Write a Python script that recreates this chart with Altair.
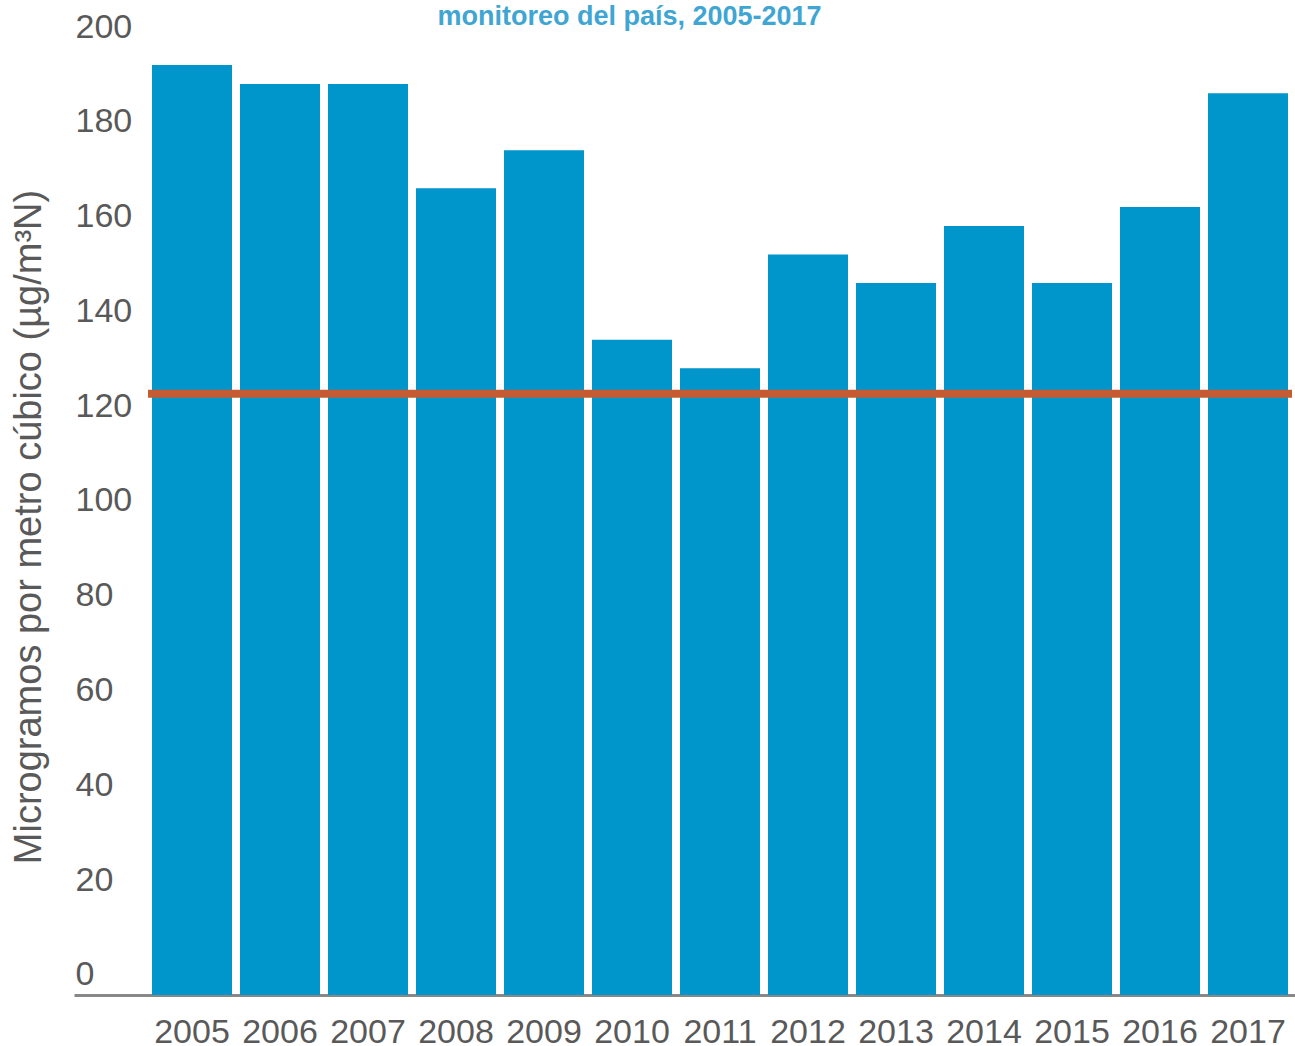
import altair as alt
import pandas as pd

# ---- data ----
anios = ["2005", "2006", "2007", "2008", "2009", "2010", "2011",
         "2012", "2013", "2014", "2015", "2016", "2017"]
valores = [192, 188, 188, 166, 174, 134, 128, 152, 146, 158, 146, 162, 186]
limite = 122.6
marcas_y = [0, 20, 40, 60, 80, 100, 120, 140, 160, 180, 200]
base_y = -4.22      # bottom of the value axis (bars start at the axis line)
tope_y = 200

titulo = "monitoreo del país, 2005-2017"
titulo_eje_y = "Microgramos por metro cúbico (µg/m³N)"

FONT = "Liberation Sans"
GRIS = "#595959"

df = pd.DataFrame({
    "anio": anios,
    "valor": valores,
    "limite": [limite] * len(anios),
})

x_scale = alt.Scale(paddingInner=8 / 88, paddingOuter=0.483, align=0.9176)
y_scale = alt.Scale(domain=[base_y, tope_y], nice=False, zero=False)

x_axis = alt.Axis(
    title=None, labelAngle=0, labelFontSize=34, labelColor=GRIS, labelFont=FONT,
    labelPadding=20, ticks=False, tickSize=0, domainColor="#888888",
    domainWidth=3, grid=False,
)
y_axis = alt.Axis(
    title=titulo_eje_y, values=marcas_y, labelFontSize=34, labelColor=GRIS,
    labelFont=FONT, labelAlign="left", labelPadding=-1, ticks=False, tickSize=0,
    domain=False, grid=False, titleFontSize=38, titleFont=FONT,
    titleFontWeight="normal", titleColor=GRIS, titleX=-34, titleY=499.5,
    titleAngle=270, titleAlign="center", titleBaseline="alphabetic",
)

barras = alt.Chart(df).mark_bar(color="#0096CB").encode(
    x=alt.X("anio:N", sort=anios, scale=x_scale, axis=x_axis),
    y=alt.Y("valor:Q", scale=y_scale, axis=y_axis),
    y2=alt.datum(base_y),
)

linea = alt.Chart(df).mark_tick(color="#C55B33", thickness=8, size=88, opacity=1).encode(
    x=alt.X("anio:N", sort=anios, scale=x_scale, axis=x_axis),
    y=alt.Y("limite:Q", scale=y_scale, axis=y_axis),
)

chart = alt.layer(barras, linea).properties(
    width=1221,
    height=968,
    padding={"left": 74, "top": 27, "right": 0, "bottom": 51},
    autosize=alt.AutoSizeParams(type="none"),
    title=alt.TitleParams(
        text=titulo, font=FONT, fontSize=27, fontWeight="bold",
        color="#3FA5D3", anchor="middle", frame="group", dx=-55,
        baseline="top", offset=-21,
    ),
).configure(background="white").configure_view(stroke=None)

chart.save("out.html", embed_options={"renderer": "svg", "actions": False})
